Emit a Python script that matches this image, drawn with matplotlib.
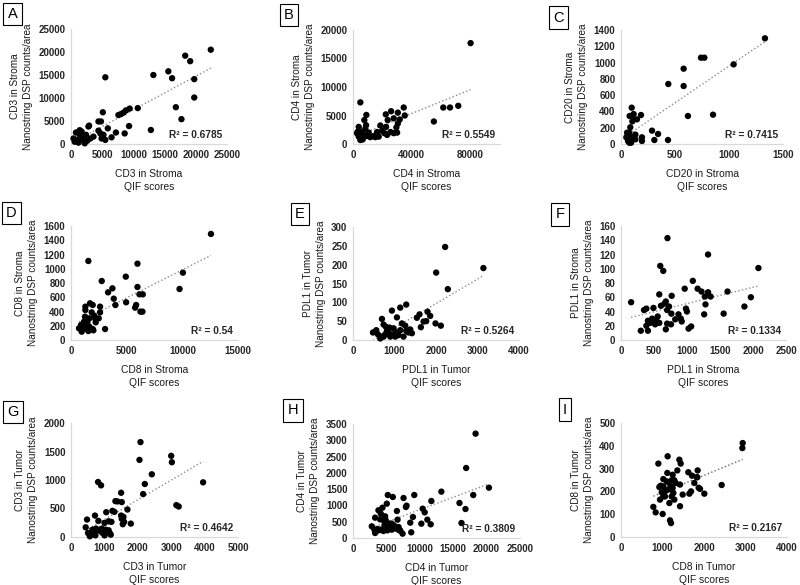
import numpy as np
import matplotlib
matplotlib.use('Agg')
import matplotlib.pyplot as plt

plt.rcParams['font.family'] = ['Liberation Sans', 'DejaVu Sans']

# ---- data ----
a_x = [22400, 18300, 19100, 13200, 15600, 16200, 19750, 5500, 19750, 16800,
       17700, 12800, 10700, 9400, 8800, 8400, 8000, 7600, 5100, 9300,
       8600, 7200, 6500, 5900, 4400, 4800, 2900, 2800, 4400, 4700,
       5200, 5500, 4900, 3600, 3100, 2400, 1700, 800, 1400, 900,
       600, 1200, 2000, 2600, 400, 1700, 2200, 1400]
a_y = [20500, 19200, 18000, 15000, 15800, 14300, 14100, 14500, 10100, 8000,
       5400, 3050, 7800, 7700, 7300, 6800, 6500, 6300, 6900, 3900,
       2300, 2500, 1450, 3400, 4900, 4900, 4000, 3800, 2900, 2300,
       2000, 900, 1200, 1600, 1200, 2000, 2700, 2500, 2000, 900,
       500, 300, 900, 700, 1200, 1200, 150, 3000]

b_x = [80000, 71600, 66000, 61400, 55000, 34500, 35200, 30500, 25900, 22300,
       27700, 31800, 30500, 29500, 23600, 22500, 18600, 19800, 21400, 25500,
       27700, 30000, 17500, 14100, 11800, 9500, 7300, 8400, 8900, 7700,
       9100, 5000, 2700, 3900, 5000, 6600, 6100, 3200, 3900, 10700,
       15200, 23200, 16400]
b_y = [17700, 6700, 6400, 6400, 3950, 6400, 5000, 5500, 5750, 5200,
       4500, 4300, 3600, 2900, 4200, 3000, 3250, 2300, 1900, 2100,
       1900, 2000, 1300, 1400, 1200, 1400, 1600, 2700, 3300, 4200,
       5100, 7300, 1900, 1300, 700, 800, 2150, 2150, 3000, 2000,
       1200, 1600, 2100]

c_x = [1333, 1043, 741, 772, 580, 438, 580, 852, 620, 435,
       343, 287, 309, 194, 194, 185, 117, 80, 117, 99,
       105, 148, 86, 56, 77, 49, 86, 111, 133, 65,
       77, 93, 65, 133]
c_y = [1298, 978, 1060, 1060, 925, 737, 712, 360, 344, 49,
       123, 164, 49, 82, 37, 356, 303, 344, 368, 446,
       278, 303, 205, 139, 139, 82, 78, 82, 57, 37,
       16, 16, 110, 115]

d_x = [12570, 10050, 9750, 5970, 1560, 4920, 2760, 3720, 3330, 3840,
       3990, 4950, 5970, 6150, 6450, 5850, 5760, 6240, 6420, 2610,
       2610, 2490, 2190, 1950, 1710, 1290, 1290, 1860, 2070, 1650,
       1260, 1470, 1170, 900, 720, 960, 1260, 1650, 1950, 2220,
       1560, 3060, 2010, 1110, 1410]
d_y = [1488, 945, 716, 1071, 1109, 889, 828, 725, 669, 580,
       491, 529, 744, 641, 641, 491, 454, 398, 398, 468,
       388, 304, 295, 491, 515, 468, 421, 388, 342, 304,
       327, 248, 257, 211, 164, 117, 164, 187, 154, 248,
       126, 154, 136, 187, 201]

e_x = [2220, 2004, 3142, 2285, 1283, 1138, 938, 1058, 697, 1796,
       1860, 1603, 1539, 1700, 1764, 1988, 2117, 1635, 737, 793,
       882, 978, 1178, 1259, 1379, 1419, 1283, 1138, 1058, 962,
       858, 777, 697, 601, 481, 657, 1218, 1098, 1018, 898,
       818, 561, 737, 1339]
e_y = [247, 179, 191, 135, 94, 86, 78, 60, 56, 75,
       64, 68, 59, 49, 50, 44, 38, 34, 41, 35,
       33, 31, 44, 38, 28, 18, 24, 26, 20, 15,
       20, 15, 9, 15, 20, 4, 9, 13, 9, 9,
       24, 26, 9, 20]

f_x = [153, 300, 408, 349, 384, 408, 384, 443, 472, 492,
       517, 541, 580, 556, 492, 580, 595, 640, 704, 659,
       605, 679, 699, 728, 768, 679, 699, 758, 763, 822,
       871, 906, 920, 965, 984, 999, 1024, 1063, 1088, 1161,
       1220, 1260, 1270, 1280, 1319, 1358, 1319, 1555, 1614, 1870,
       1968, 2082]
f_y = [53, 13, 13, 42, 44, 27, 20, 24, 30, 28,
       22, 26, 24, 33, 45, 64, 104, 97, 143, 51,
       48, 54, 42, 47, 62, 15, 23, 22, 37, 29,
       36, 30, 26, 72, 44, 40, 16, 19, 83, 72,
       68, 36, 61, 50, 67, 61, 120, 37, 68, 47,
       60, 101]

g_x = [2080, 2050, 3000, 3020, 2420, 2210, 2160, 3955, 3155, 3225,
       810, 900, 1500, 1520, 1330, 1390, 1690, 1055, 1240, 1300,
       1500, 1570, 1520, 1590, 1550, 1790, 717, 480, 440, 820,
       1005, 1127, 1210, 750, 645, 830, 920, 1035, 1127, 1160,
       930, 700, 565, 510, 565, 1005, 730, 1190, 800, 625]
g_y = [1665, 1353, 1424, 1312, 1100, 930, 753, 959, 559, 535,
       965, 906, 776, 612, 629, 624, 482, 435, 459, 441,
       376, 353, 318, 265, 224, 235, 376, 306, 170, 282,
       247, 276, 265, 147, 129, 118, 147, 129, 118, 70,
       76, 59, 41, 70, 12, 29, 29, 41, 118, 88]

h_x = [18350, 16940, 20350, 18000, 15940, 16840, 16240, 13230, 11730, 9170,
       7570, 5210, 5960, 7920, 8020, 10430, 10730, 11130, 11630, 10230,
       8970, 8570, 8720, 7420, 6920, 6570, 6670, 6120, 5810, 6220,
       5560, 5060, 4410, 3810, 4160, 4810, 4560, 4060, 3310, 4910,
       5310, 4710, 4210, 3710, 2810, 3210, 3310, 3810, 4560, 5160,
       5810, 6420, 6820, 7070, 4710]
h_y = [3204, 2150, 1545, 1320, 1075, 890, 460, 1423, 1136, 1320,
       1228, 1320, 1259, 952, 993, 900, 788, 563, 420, 440,
       645, 471, 174, 133, 235, 829, 563, 389, 440, 317,
       440, 1054, 931, 850, 747, 665, 542, 573, 624, 542,
       317, 389, 256, 276, 358, 256, 154, 235, 215, 235,
       256, 287, 338, 235, 594]

i_x = [2932, 2924, 2426, 1124, 900, 1406, 1438, 1357, 1245, 1116,
       1020, 956, 924, 1100, 1165, 1221, 1285, 1317, 1197, 1141,
       1060, 980, 1020, 940, 1245, 1261, 1285, 1165, 1422, 1486,
       1422, 1622, 1711, 1823, 1847, 1767, 1839, 1871, 1904, 2008,
       1647, 1687, 779, 835, 1004, 1181, 1205, 1060, 1020, 1221]
i_y = [412, 390, 228, 354, 322, 339, 322, 292, 273, 281,
       254, 225, 219, 244, 237, 249, 249, 237, 222, 208,
       200, 196, 178, 164, 215, 193, 164, 149, 230, 186,
       135, 284, 269, 263, 292, 237, 262, 216, 211, 190,
       190, 200, 132, 108, 101, 73, 61, 178, 222, 178]

letters = ['A', 'B', 'C', 'D', 'E', 'F', 'G', 'H', 'I']
names = ['CD3 in Stroma', 'CD4 in Stroma', 'CD20 in Stroma',
         'CD8 in Stroma', 'PDL1 in Tumor', 'PDL1 in Stroma',
         'CD3 in Tumor', 'CD4 in Tumor', 'CD8 in Tumor']
r2_values = ['0.6785', '0.5549', '0.7415', '0.54', '0.5264',
             '0.1334', '0.4642', '0.3809', '0.2167']
x_ticks = [[0, 5000, 10000, 15000, 20000, 25000],
           [0, 40000, 80000],
           [0, 500, 1000, 1500],
           [0, 5000, 10000, 15000],
           [0, 1000, 2000, 3000, 4000],
           [0, 500, 1000, 1500, 2000, 2500],
           [0, 1000, 2000, 3000, 4000, 5000],
           [0, 5000, 10000, 15000, 20000, 25000],
           [0, 1000, 2000, 3000, 4000]]
x_max = [25000, 100000, 1500, 15000, 4000, 2500, 5000, 25000, 4000]
y_ticks = [list(range(0, 25001, 5000)),
           list(range(0, 20001, 5000)),
           list(range(0, 1401, 200)),
           list(range(0, 1601, 200)),
           list(range(0, 301, 50)),
           list(range(0, 161, 20)),
           list(range(0, 2001, 500)),
           list(range(0, 3501, 500)),
           list(range(0, 501, 100))]

xs_all = [a_x, b_x, c_x, d_x, e_x, f_x, g_x, h_x, i_x]
ys_all = [a_y, b_y, c_y, d_y, e_y, f_y, g_y, h_y, i_y]

# ---- layout (pixels: left, top, right, bottom of each plot area) ----
W, H = 800, 585
rects = [(71, 29, 227, 144), (353, 30, 500, 144), (621, 30, 783, 144),
         (71, 226, 238, 340), (353, 227, 519, 340), (621, 226, 786, 340),
         (71, 423, 238, 537), (353, 424, 520, 538), (621, 423, 787, 537)]
letter_pos = [(12.5, 14), (289, 15), (558.5, 17.5),
              (11.5, 213), (300, 214), (560, 214.5),
              (13, 412), (293, 410.5), (565, 409.5)]
trend_colors = ['#8c8c8c'] * 8 + ['#5a6a80']

fig = plt.figure(figsize=(W / 100, H / 100), dpi=100)

for i in range(9):
    l, t, r, b = rects[i]
    ax = fig.add_axes([l / W, 1 - b / H, (r - l) / W, (b - t) / H])
    x = np.array(xs_all[i], dtype=float)
    y = np.array(ys_all[i], dtype=float)

    ax.scatter(x, y, s=21, c='black', edgecolors='none', zorder=3, clip_on=False)

    # linear trendline over the data range
    k, c0 = np.polyfit(x, y, 1)
    xl = np.array([x.min(), x.max()])
    ax.plot(xl, k * xl + c0, ls=':', color=trend_colors[i], lw=1.0, zorder=2)

    ax.set_xlim(0, x_max[i])
    ax.set_ylim(0, y_ticks[i][-1])
    ax.set_xticks(x_ticks[i])
    ax.set_yticks(y_ticks[i])
    ax.set_xticklabels([str(v) for v in x_ticks[i]])
    ax.set_yticklabels([str(v) for v in y_ticks[i]])

    for s in ['top', 'right']:
        ax.spines[s].set_visible(False)
    for s in ['left', 'bottom']:
        ax.spines[s].set_color('#d9d9d9')
        ax.spines[s].set_linewidth(0.9)
    ax.tick_params(length=0, labelsize=7, colors='#262626', pad=4)
    plt.setp(ax.get_xticklabels() + ax.get_yticklabels(), fontweight='bold')

    ax.set_xlabel(names[i] + '\nQIF scores', fontsize=7.4, color='#1a1a1a',
                  labelpad=7, linespacing=1.35)
    ax.set_ylabel(names[i] + '\nNanostring DSP counts/area', fontsize=7.2,
                  color='#1a1a1a', labelpad=4, linespacing=1.35)

    ax.text(0.97, 0.08, 'R\u00b2 = ' + r2_values[i], transform=ax.transAxes,
            ha='right', va='center', fontsize=7.3, fontweight='bold', color='#262626')

    lx, ly = letter_pos[i]
    fig.text(lx / W, 1 - ly / H, letters[i], ha='center', va='center', fontsize=10.5,
             bbox=dict(boxstyle='square,pad=0.3', fc='white', ec='black', lw=0.8))

fig.savefig('out.png', dpi=100)
